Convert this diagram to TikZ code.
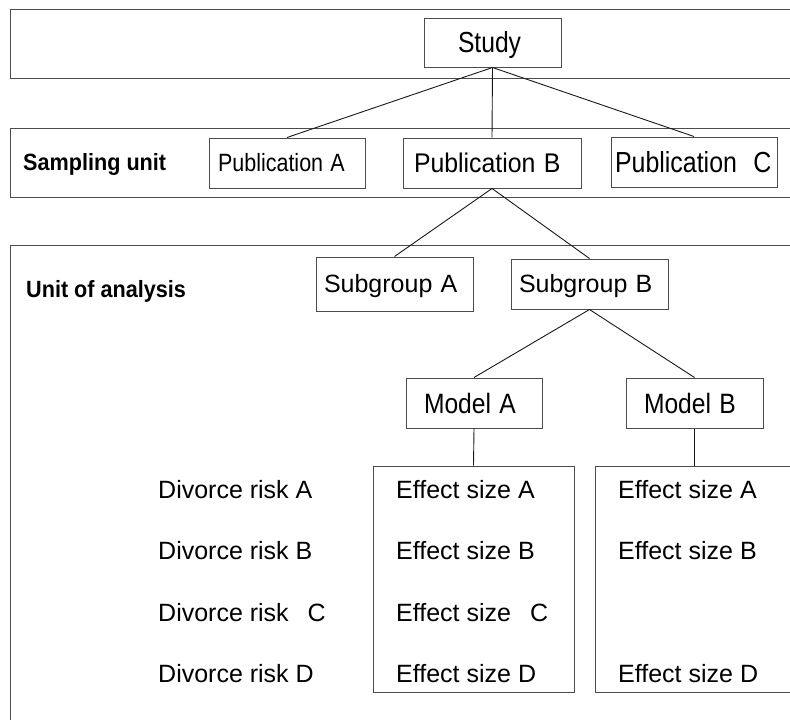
\documentclass[tikz,border=0pt]{standalone}
\usepackage{fontspec}
\usepackage{graphicx}
\setmainfont{Liberation Sans}
\newcommand{\hs}[2]{\scalebox{#1}[1]{#2}}
\newcommand{\fs}[1]{\fontsize{#1}{#1}\selectfont}
\begin{document}
\begin{tikzpicture}[x=1pt,y=-1pt,
  frame/.style={draw=black!70, line width=1pt},
  conn/.style={draw=black!90, line width=0.9pt},
  bx/.style={draw=black!70, line width=1pt, rectangle, inner ysep=0pt, text depth=0pt, align=left},
  lbl/.style={anchor=base west, inner sep=0pt, font=\fs{25}},
  hdr/.style={anchor=base west, inner sep=0pt, font=\bfseries\fs{23.5}},
  ebox/.style={draw=black!70, line width=1pt, rectangle, inner sep=0pt}]
\useasboundingbox (0,0) rectangle (790,720);
\clip (0,0) rectangle (790,720);
\fill[white] (0,0) rectangle (790,720);

% bands
\draw[frame] (10,9) rectangle (820,78);
\draw[frame] (10,128) rectangle (820,197);
\draw[frame] (10,245) rectangle (820,740);

% boxes
\node[bx, minimum width=137pt, minimum height=49pt, inner xsep=34pt, text width=69pt, text height=20.8pt, font=\fs{29}] (study) at (492.5,42.5) {\hs{0.85}{Study}};
\node[bx, minimum width=156pt, minimum height=50pt, inner xsep=9pt, text width=138pt, text height=17.9pt, font=\fs{25}] (pubA) at (287,163) {\hs{0.86}{Publication A}};
\node[bx, minimum width=178pt, minimum height=50pt, inner xsep=11pt, text width=156pt, text height=19.3pt, font=\fs{27}] (pubB) at (492,163) {\hs{0.92}{Publication B}};
\node[bx, minimum width=166pt, minimum height=50pt, inner xsep=4pt, text width=158pt, text height=20.8pt, font=\fs{29}] (pubC) at (694,162) {\hs{0.86}{Publication\hspace{19pt}C}};
\node[bx, minimum width=157pt, minimum height=54pt, inner xsep=8pt, text width=141pt, text height=17.9pt, font=\fs{25}] (subA) at (394.5,284) {Subgroup A};
\node[bx, minimum width=157pt, minimum height=50pt, inner xsep=8pt, text width=141pt, text height=17.9pt, font=\fs{25}] (subB) at (589.5,284) {Subgroup B};
\node[bx, minimum width=136pt, minimum height=50pt, inner xsep=18pt, text width=100pt, text height=20pt, font=\fs{28}] (modA) at (474,403) {\hs{0.88}{Model A}};
\node[bx, minimum width=137pt, minimum height=50pt, inner xsep=18pt, text width=101pt, text height=20pt, font=\fs{28}] (modB) at (694.5,403) {\hs{0.88}{Model B}};
\node[ebox, minimum width=201pt, minimum height=226pt] (effA) at (473.5,579) {};
\node[ebox, minimum width=225pt, minimum height=226pt] (effB) at (707.5,579) {};

% headers
\node[hdr] (samp) at (23,170) {\hs{0.92}{Sampling unit}};
\node[hdr] (unit) at (26,297) {\hs{0.92}{Unit of analysis}};

% divorce risk labels
\node[lbl] (drA) at (158,498) {Divorce risk A};
\node[lbl] (drB) at (158,559) {Divorce risk B};
\node[lbl] (drC) at (158,621) {Divorce risk\hspace{19pt}C};
\node[lbl] (drD) at (158,682) {Divorce risk D};

% effect sizes
\node[lbl] (eaA) at (396,498) {Effect size A};
\node[lbl] (eaB) at (396,559) {Effect size B};
\node[lbl] (eaC) at (396,621) {Effect size\hspace{19pt}C};
\node[lbl] (eaD) at (396,682) {Effect size D};
\node[lbl] (ebA) at (618,498) {Effect size A};
\node[lbl] (ebB) at (618,559) {Effect size B};
\node[lbl] (ebD) at (618,682) {Effect size D};

% connectors
\draw[conn] (study.south) -- (pubA.north);
\draw[conn] (study.south) -- (pubB.north);
\draw[conn] (study.south) -- (pubC.north);
\draw[conn] (pubB.south) -- (subA.north);
\draw[conn] (pubB.south) -- (subB.north);
\draw[conn] (subB.south) -- (modA.north);
\draw[conn] (subB.south) -- (modB.north);
\draw[conn] (modA.south) -- (effA.north);
\draw[conn] (modB.south) -- (modB.south |- effB.north);
\end{tikzpicture}
\end{document}
